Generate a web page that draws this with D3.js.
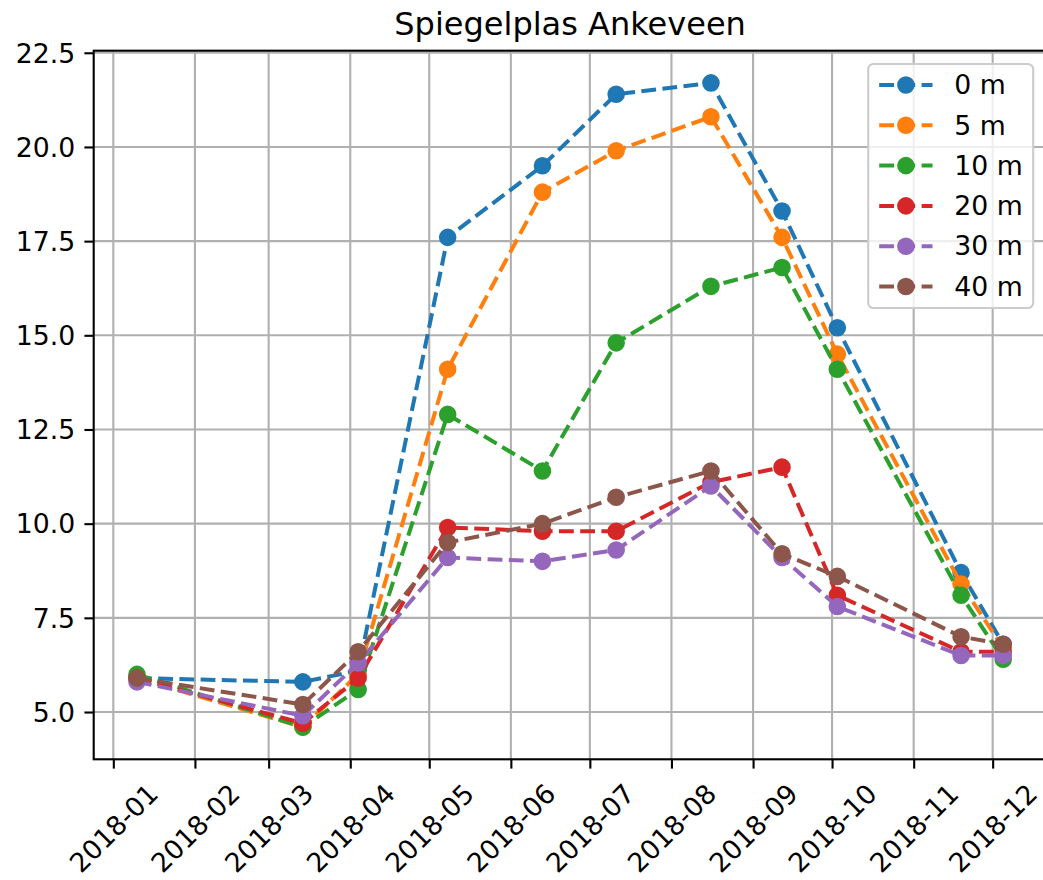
<!DOCTYPE html>
<html>
<head>
<meta charset="utf-8">
<script src="https://cdn.jsdelivr.net/npm/d3@7"></script>
<style>
  body { margin: 0; background: #fff; }
  text { font-family: "DejaVu Sans", sans-serif; fill: #000; }
</style>
</head>
<body>
<svg id="chart" width="1043" height="880"></svg>
<script>
// Sampling dates and water temperature (°C) per depth
const sampleDates = ["2018-01-10", "2018-03-14", "2018-04-04", "2018-05-08", "2018-06-13",
                     "2018-07-11", "2018-08-16", "2018-09-12", "2018-10-03", "2018-11-19", "2018-12-05"];
const depthLabels = ["0 m", "5 m", "10 m", "20 m", "30 m", "40 m"];
const temp0m  = [5.9, 5.8, 6.1, 17.6, 19.5, 21.4, 21.7, 18.3, 15.2, 8.7, 6.8];
const temp5m  = [5.9, 4.6, 6.0, 14.1, 18.8, 19.9, 20.8, 17.6, 14.5, 8.4, 6.7];
const temp10m = [6.0, 4.6, 5.6, 12.9, 11.4, 14.8, 16.3, 16.8, 14.1, 8.1, 6.4];
const temp20m = [5.9, 4.7, 5.9, 9.9, 9.8, 9.8, 11.1, 11.5, 8.1, 6.6, 6.6];
const temp30m = [5.8, 4.9, 6.3, 9.1, 9.0, 9.3, 11.0, 9.1, 7.8, 6.5, 6.5];
const temp40m = [5.9, 5.2, 6.6, 9.5, 10.0, 10.7, 11.4, 9.2, 8.6, 7.0, 6.8];
const seriesColors = ["#1f77b4", "#ff7f0e", "#2ca02c", "#d62728", "#9467bd", "#8c564b"];
const xTickLabels = ["2018-01", "2018-02", "2018-03", "2018-04", "2018-05", "2018-06",
                     "2018-07", "2018-08", "2018-09", "2018-10", "2018-11", "2018-12"];
const yTickValues = [5.0, 7.5, 10.0, 12.5, 15.0, 17.5, 20.0, 22.5];
const chartTitle = "Spiegelplas Ankeveen";

const allTemps = [temp0m, temp5m, temp10m, temp20m, temp30m, temp40m];

// Layout (px); 1pt ≈ 2.667px
const L = 93.7, R = 1046.5, T = 50.7, B = 759.3;
const fs = 26.7;          // tick / legend font size
const tick = 9.3, pad = 9.3, thin = 2.1;

const parseDay = d3.timeParse("%Y-%m-%d");
const parseMonth = d3.timeParse("%Y-%m");
const dates = sampleDates.map(parseDay);

const series = depthLabels.map((name, i) => ({
  name, color: seriesColors[i],
  values: dates.map((d, j) => ({ date: d, v: allTemps[i][j] }))
}));

// 5% margins around the data, like the default autoscale
const [d0, d1] = d3.extent(dates);
const dSpan = d1 - d0;
const x = d3.scaleTime()
  .domain([new Date(+d0 - 0.05 * dSpan), new Date(+d1 + 0.05 * dSpan)])
  .range([L, R]);

const flat = allTemps.flat();
const [v0, v1] = d3.extent(flat);
const vSpan = v1 - v0;
const y = d3.scaleLinear()
  .domain([v0 - 0.05 * vSpan, v1 + 0.05 * vSpan])
  .range([B, T]);

const xTicks = xTickLabels.map(parseMonth);
const svg = d3.select("#chart");
svg.append("rect").attr("width", 1043).attr("height", 880).attr("fill", "#fff");

// Grid
const grid = svg.append("g").attr("stroke", "#b0b0b0").attr("stroke-width", thin);
grid.selectAll(".gx").data(xTicks).join("line")
  .attr("x1", d => x(d)).attr("x2", d => x(d)).attr("y1", T).attr("y2", B);
grid.selectAll(".gy").data(yTickValues).join("line")
  .attr("x1", L).attr("x2", R).attr("y1", d => y(d)).attr("y2", d => y(d));

// Series: dashed line plus circle markers
const line = d3.line().x(d => x(d.date)).y(d => y(d.v));
const sg = svg.append("g").selectAll("g").data(series).join("g");
sg.append("path")
  .attr("d", d => line(d.values))
  .attr("fill", "none")
  .attr("stroke", d => d.color)
  .attr("stroke-width", 4)
  .attr("stroke-dasharray", "14.8,6.4")
  .attr("stroke-linejoin", "round");
sg.each(function (s) {
  d3.select(this).selectAll("circle").data(s.values).join("circle")
    .attr("cx", d => x(d.date)).attr("cy", d => y(d.v))
    .attr("r", 7.6)
    .attr("fill", s.color).attr("stroke", s.color).attr("stroke-width", 2.4);
});

// Frame
svg.append("rect").attr("x", L).attr("y", T).attr("width", R - L).attr("height", B - T)
  .attr("fill", "none").attr("stroke", "#000").attr("stroke-width", thin);

// X axis
const gx = svg.append("g").attr("transform", `translate(0,${B})`)
  .call(d3.axisBottom(x).tickValues(xTicks).tickFormat(d3.timeFormat("%Y-%m"))
        .tickSize(tick).tickSizeOuter(0));
gx.select(".domain").remove();
gx.selectAll("line").attr("stroke", "#000").attr("stroke-width", thin);
gx.selectAll("text")
  .attr("font-size", fs).attr("font-family", "DejaVu Sans").attr("fill", "#000")
  .each(function () {
    const w = this.getComputedTextLength();
    const h = fs * 1.164;
    const half = (w + h) / Math.SQRT2 / 2;
    d3.select(this)
      .attr("x", 0).attr("y", 0).attr("dy", "0.346em")
      .attr("text-anchor", "middle")
      .attr("transform", `translate(0,${tick + pad + half}) rotate(-45)`);
  });

// Y axis
const gy = svg.append("g").attr("transform", `translate(${L},0)`)
  .call(d3.axisLeft(y).tickValues(yTickValues).tickFormat(d3.format(".1f"))
        .tickSize(tick).tickPadding(pad).tickSizeOuter(0));
gy.select(".domain").remove();
gy.selectAll("line").attr("stroke", "#000").attr("stroke-width", thin);
gy.selectAll("text")
  .attr("font-size", fs).attr("font-family", "DejaVu Sans").attr("fill", "#000")
  .attr("dy", "0.346em");

// Title
svg.append("text")
  .attr("x", (L + R) / 2).attr("y", T - 16)
  .attr("text-anchor", "middle").attr("font-size", 32)
  .text(chartTitle);

// Legend (upper right)
const rowH = 40.3, legW = 165, legH = 244;
const legX = R - 13.3 - legW, legY = T + 13.3;
const leg = svg.append("g");
leg.append("rect").attr("x", legX).attr("y", legY).attr("width", legW).attr("height", legH)
  .attr("rx", 5.3).attr("fill", "#fff").attr("fill-opacity", 0.8)
  .attr("stroke", "#cccccc").attr("stroke-width", thin);
const items = leg.selectAll("g.item").data(series).join("g")
  .attr("transform", (d, i) => `translate(${legX + 11},${legY + 21 + i * rowH})`);
items.append("line").attr("x1", 0).attr("x2", 53.3).attr("y1", 0).attr("y2", 0)
  .attr("stroke", d => d.color).attr("stroke-width", 4).attr("stroke-dasharray", "14.8,6.4");
items.append("circle").attr("cx", 26.7).attr("cy", 0).attr("r", 7.6)
  .attr("fill", d => d.color).attr("stroke", d => d.color).attr("stroke-width", 2.4);
items.append("text").attr("x", 75).attr("y", 0).attr("dy", "0.346em")
  .attr("font-size", fs).text(d => d.name);
</script>
</body>
</html>
